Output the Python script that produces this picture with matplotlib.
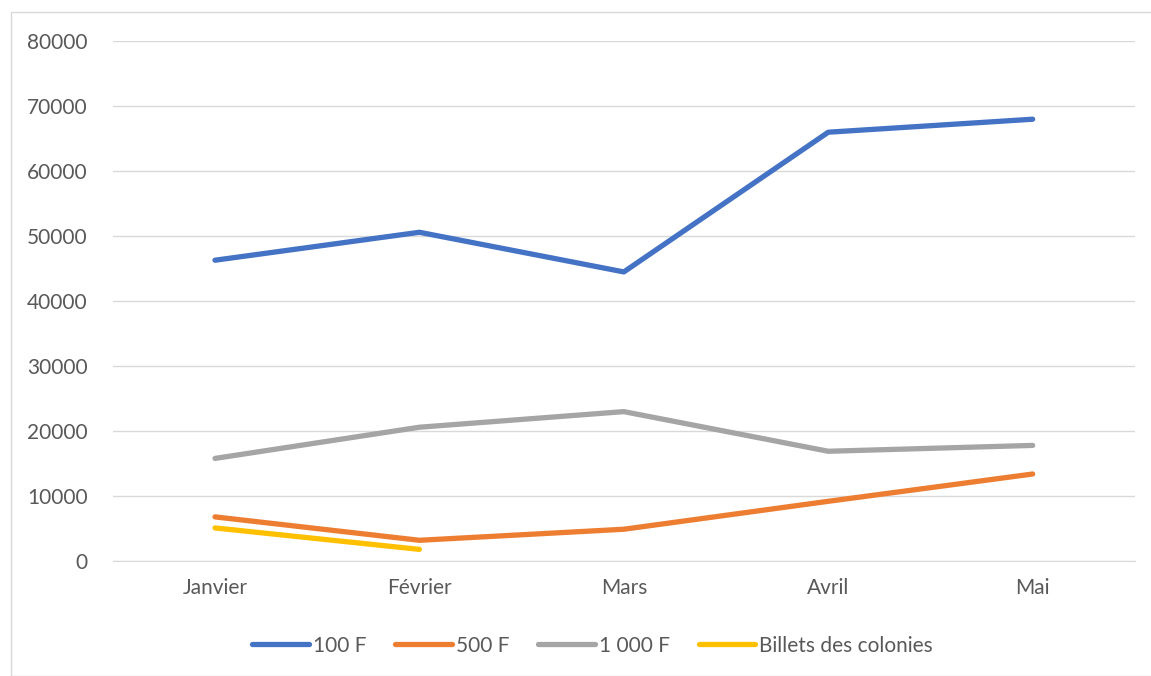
import matplotlib
matplotlib.use("Agg")
import matplotlib.pyplot as plt
from matplotlib.patches import Rectangle

plt.rcParams['font.family'] = ['Lato', 'DejaVu Sans']

# donnees
mois = ['Janvier', 'Février', 'Mars', 'Avril', 'Mai']
billets_100 = [46300, 50600, 44500, 66000, 68000]
billets_500 = [6800, 3200, 4900, 9200, 13400]
billets_1000 = [15800, 20600, 23000, 16900, 17800]
billets_colonies = [5100, 1800]

series = [
    ('100 F', billets_100, '#4472C4'),
    ('500 F', billets_500, '#ED7D31'),
    ('1 000 F', billets_1000, '#A5A5A5'),
    ('Billets des colonies', billets_colonies, '#FFC000'),
]

fig = plt.figure(figsize=(11.51, 6.76), dpi=100)
ax = fig.add_axes([0.098, 0.170, 0.888, 0.769])

for nom, valeurs, couleur in series:
    ax.plot(range(len(valeurs)), valeurs, color=couleur, linewidth=3.8,
            solid_capstyle='round', label=nom)

ax.set_xlim(-0.5, 4.5)
ax.set_ylim(0, 80000)
ax.set_yticks(range(0, 80001, 10000))
ax.set_xticks(range(len(mois)))
ax.set_xticklabels(mois)
ax.grid(axis='y', color='#D9D9D9', linewidth=1)
ax.set_axisbelow(True)
for s in ['top', 'right', 'left']:
    ax.spines[s].set_visible(False)
ax.spines['bottom'].set_color('#D9D9D9')
ax.tick_params(length=0, labelsize=15, labelcolor='#595959')
ax.tick_params(axis='y', pad=18)
ax.tick_params(axis='x', pad=12)

leg = fig.legend(loc='center', bbox_to_anchor=(0.515, 0.045), ncol=4,
                 frameon=False, fontsize=15, handlelength=2.7,
                 handletextpad=0.2, columnspacing=1.4)
for t in leg.get_texts():
    t.set_color('#595959')

# cadre du graphique
fig.patches.append(Rectangle((11 / 1151, 0), 1.2, 1 - 12 / 676, transform=fig.transFigure,
                             fill=False, edgecolor='#D9D9D9', linewidth=1))

fig.savefig('out.png', dpi=100)
